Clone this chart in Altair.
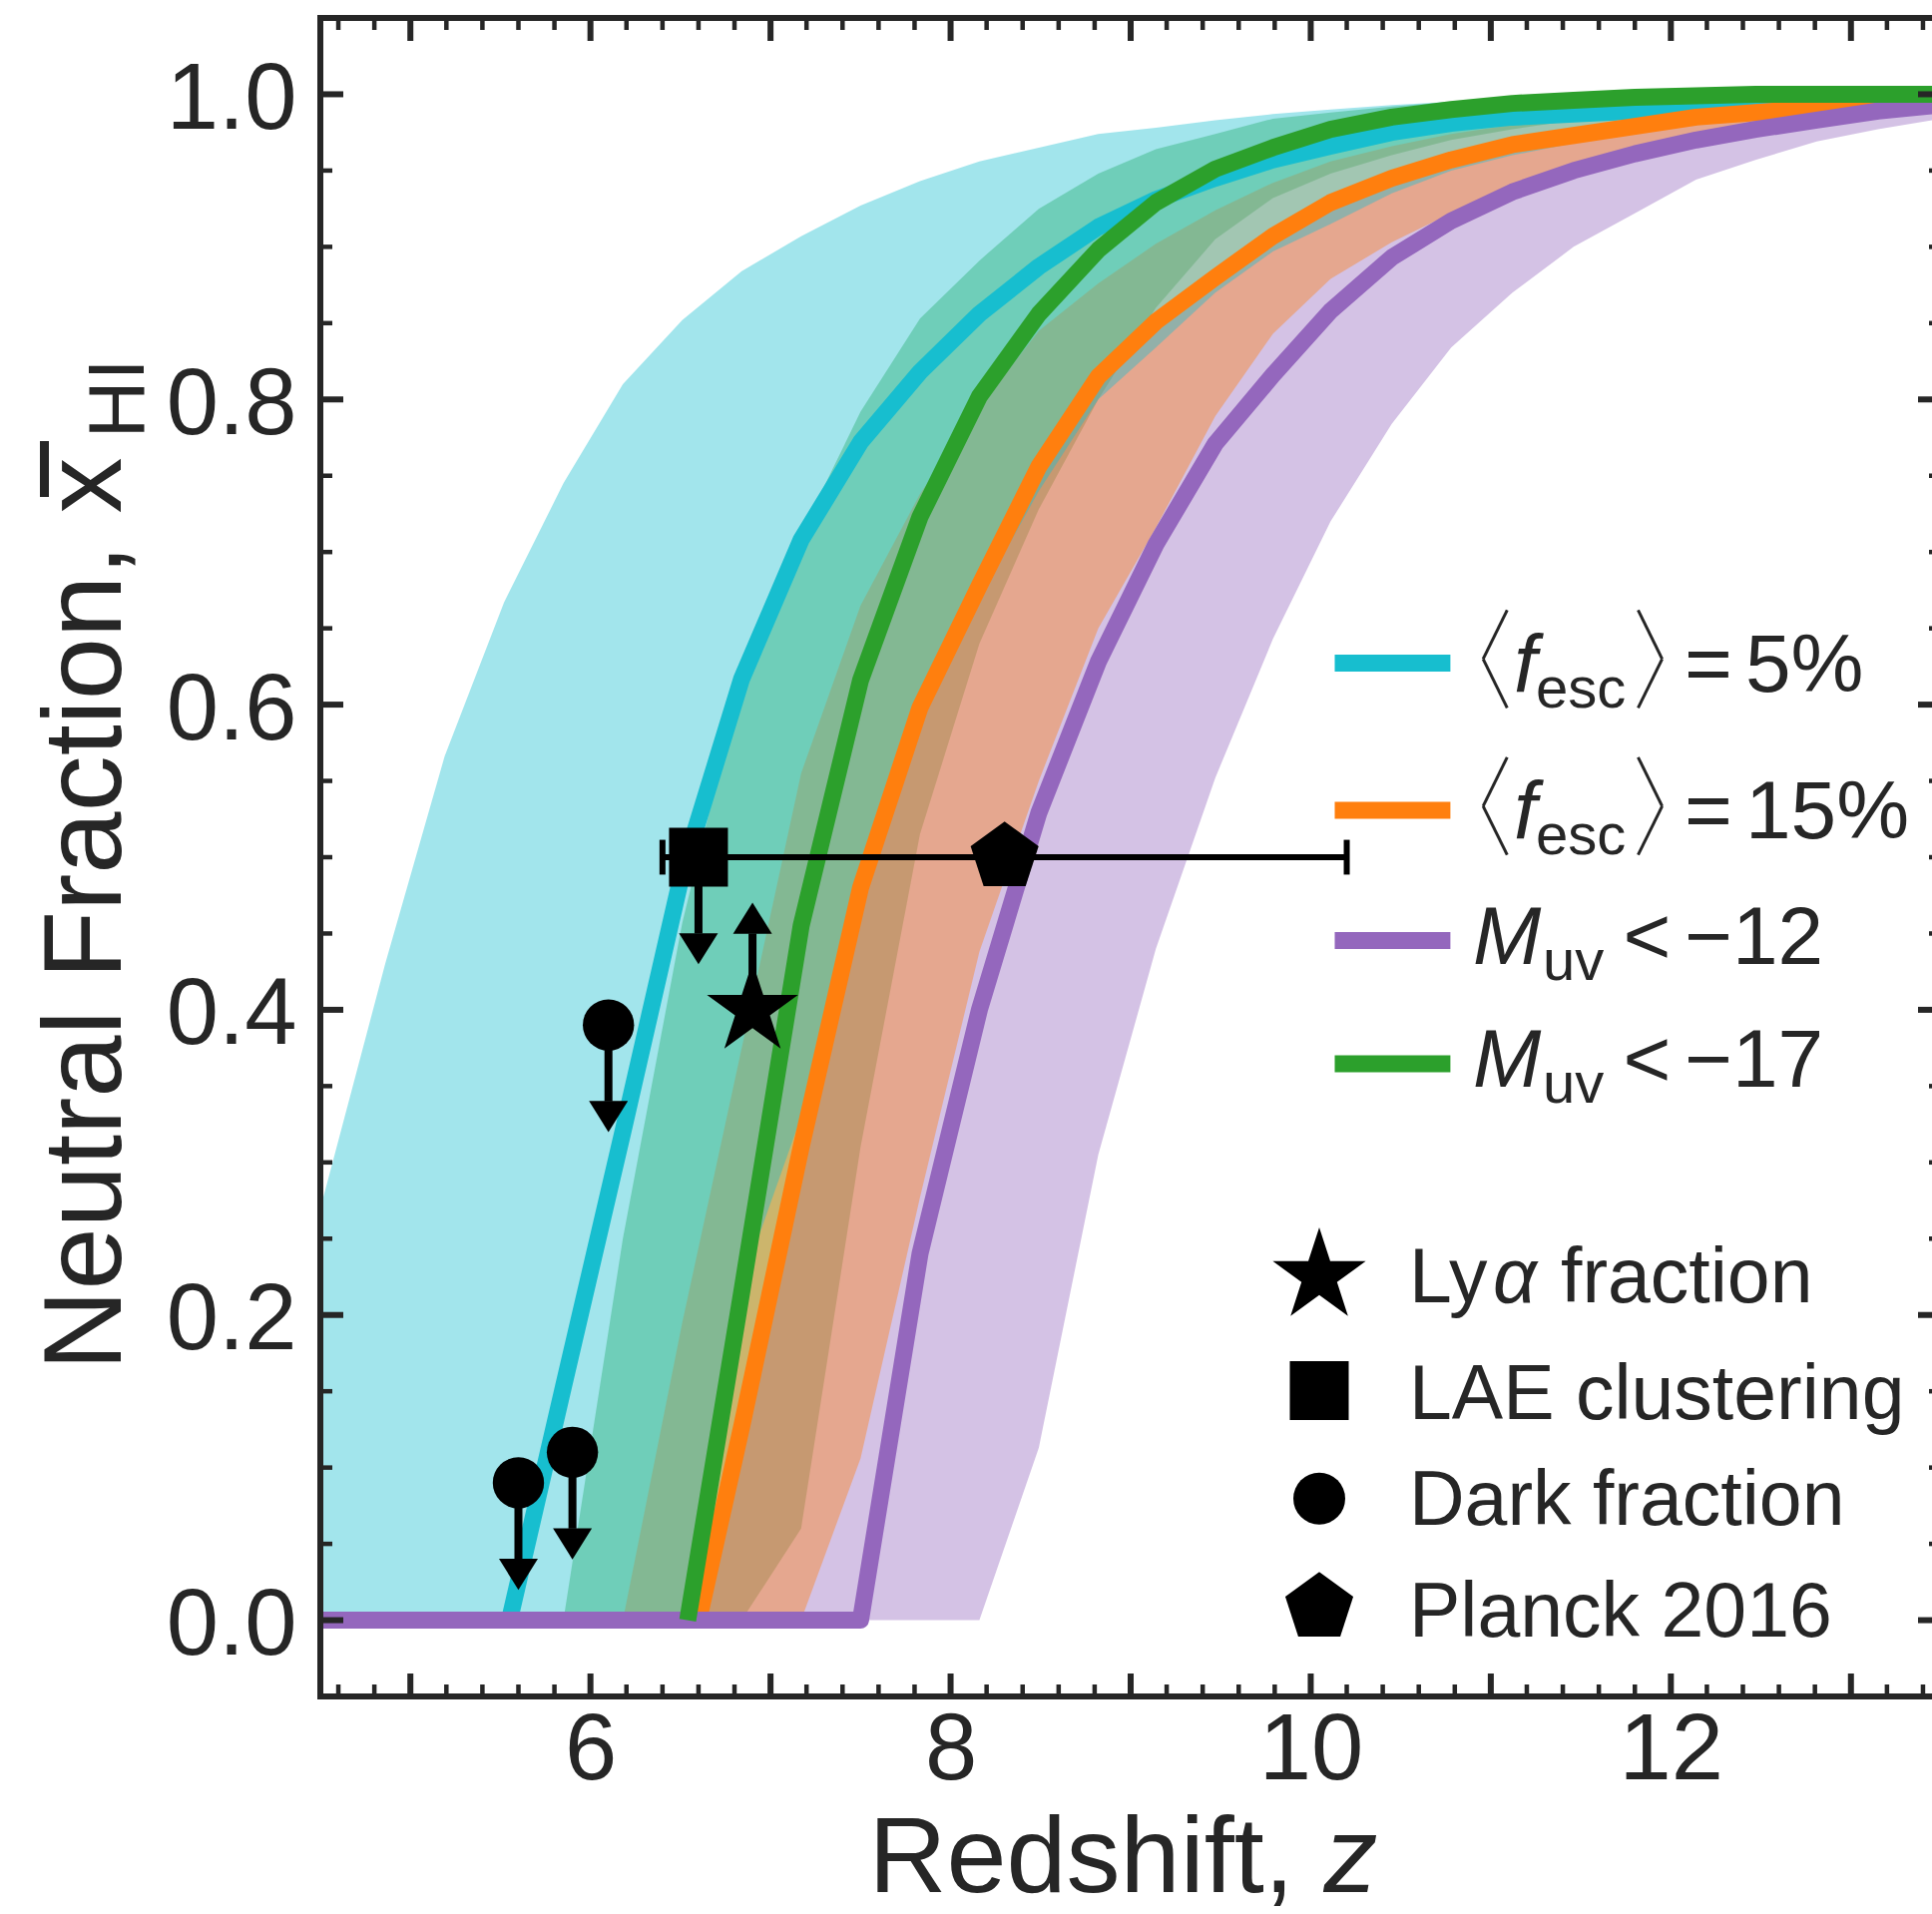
import altair as alt
import pandas as pd

FONT = "Liberation Sans"
INK = "#262626"
BLACK = "#000000"
C_CYAN = "#17becf"
C_ORANGE = "#ff7f0e"
C_PURPLE = "#9467bd"
C_GREEN = "#2ca02c"

# ------------------------------------------------------------------ data
# redshift grid of the model ranges
Z_GRID = [4.20, 4.53, 4.86, 5.19, 5.52, 5.85, 6.18, 6.51, 6.84, 7.17,
          7.50, 7.83, 8.16, 8.49, 8.82, 9.14, 9.47, 9.79, 10.11, 10.45,
          10.78, 11.12, 11.46, 11.80, 12.14, 12.47, 12.81, 13.15, 13.50]

CYAN_LO = [0.0, 0.0, 0.0, 0.0, 0.0, 0.0, 0.0, 0.0, 0.22, 0.33,
           0.47, 0.59, 0.67, 0.74, 0.80, 0.834, 0.87, 0.897, 0.915, 0.935,
           0.95, 0.96, 0.968, 0.975, 0.98, 0.985, 0.988, 0.991, 0.994]
CYAN_HI = [0.14, 0.283, 0.43, 0.566, 0.667, 0.745, 0.81, 0.852, 0.884, 0.907,
           0.927, 0.943, 0.956, 0.965, 0.974, 0.978, 0.983, 0.987, 0.990, 0.993,
           0.995, 0.997, 0.998, 0.999, 0.999, 1.0, 1.0, 1.0, 1.0]
ORANGE_LO = [0.0, 0.0, 0.0, 0.0, 0.0, 0.0, 0.0, 0.0, 0.0, 0.0,
             0.106, 0.277, 0.438, 0.55, 0.65, 0.716, 0.789, 0.843, 0.879, 0.903,
             0.922, 0.94, 0.953, 0.965, 0.973, 0.981, 0.986, 0.99, 0.994]
ORANGE_HI = [0.0, 0.0, 0.0, 0.0, 0.0, 0.0, 0.0, 0.195, 0.375, 0.555,
             0.665, 0.738, 0.795, 0.845, 0.876, 0.902, 0.924, 0.942, 0.956, 0.966,
             0.974, 0.98, 0.985, 0.989, 0.992, 0.994, 0.996, 0.997, 0.998]
PURPLE_LO = [0.0, 0.0, 0.0, 0.0, 0.0, 0.0, 0.0, 0.0, 0.0, 0.0,
             0.0, 0.0, 0.0, 0.113, 0.305, 0.44, 0.552, 0.643, 0.72, 0.784,
             0.834, 0.87, 0.9, 0.922, 0.944, 0.957, 0.969, 0.977, 0.984]
PURPLE_HI = [0.0, 0.0, 0.0, 0.0, 0.0, 0.0, 0.0, 0.0, 0.12, 0.32,
             0.475, 0.595, 0.675, 0.755, 0.812, 0.848, 0.877, 0.904, 0.926, 0.942,
             0.955, 0.964, 0.972, 0.978, 0.983, 0.987, 0.99, 0.993, 0.995]
GREEN_LO = [0.0, 0.0, 0.0, 0.0, 0.0, 0.0, 0.0, 0.0, 0.0, 0.06,
            0.31, 0.515, 0.64, 0.728, 0.80, 0.86, 0.905, 0.932, 0.948, 0.96,
            0.97, 0.977, 0.983, 0.987, 0.99, 0.993, 0.995, 0.997, 0.998]
GREEN_HI = [0.0, 0.0, 0.0, 0.0, 0.0, 0.0, 0.25, 0.457, 0.617, 0.712,
            0.792, 0.853, 0.891, 0.925, 0.948, 0.964, 0.974, 0.984, 0.988, 0.992,
            0.995, 0.997, 0.998, 0.999, 0.999, 1.0, 1.0, 1.0, 1.0]

# median histories
CYAN_Z = [5.55, 5.85, 6.18, 6.51, 6.84, 7.17, 7.50, 7.83, 8.16, 8.49, 8.82, 9.14, 9.47,
          9.79, 10.11, 10.45, 10.78, 11.12, 11.46, 11.80, 12.14, 12.47, 12.81, 13.15, 13.50]
CYAN_X = [0.0, 0.153, 0.32, 0.49, 0.617, 0.708, 0.772, 0.818, 0.856, 0.887, 0.913, 0.931, 0.945,
          0.957, 0.966, 0.975, 0.981, 0.985, 0.987, 0.989, 0.991, 0.992, 0.993, 0.994, 0.995]
ORANGE_Z = [6.60, 6.84, 7.17, 7.50, 7.83, 8.16, 8.49, 8.82, 9.14, 9.47, 9.79,
            10.11, 10.45, 10.78, 11.12, 11.46, 11.80, 12.14, 12.47, 12.81, 13.15, 13.50]
ORANGE_X = [0.0, 0.127, 0.31, 0.48, 0.598, 0.678, 0.756, 0.815, 0.851, 0.88, 0.907,
            0.929, 0.945, 0.957, 0.967, 0.973, 0.979, 0.985, 0.988, 0.991, 0.994, 0.996]
GREEN_Z = [6.54, 6.84, 7.17, 7.50, 7.83, 8.16, 8.49, 8.82, 9.14, 9.47, 9.79,
           10.11, 10.45, 10.78, 11.12, 11.46, 11.80, 12.14, 12.47, 12.81, 13.15, 13.50]
GREEN_X = [0.0, 0.215, 0.455, 0.616, 0.723, 0.802, 0.856, 0.898, 0.929, 0.951, 0.965,
           0.977, 0.985, 0.99, 0.994, 0.996, 0.998, 0.999, 1.0, 1.0, 1.0, 1.0]
PURPLE_Z = [4.40, 7.50, 7.83, 8.16, 8.49, 8.82, 9.14, 9.47, 9.79, 10.11,
            10.45, 10.78, 11.12, 11.46, 11.80, 12.14, 12.47, 12.81, 13.15, 13.50]
PURPLE_X = [0.0, 0.0, 0.24, 0.40, 0.529, 0.628, 0.705, 0.771, 0.816, 0.858,
            0.893, 0.917, 0.936, 0.95, 0.961, 0.97, 0.977, 0.983, 0.989, 0.993]

# observational constraints
LYA_Z, LYA_X = [6.9], [0.40]                      # lower limit
LAE_Z, LAE_X = [6.6], [0.50]                      # upper limit
DARK_Z, DARK_X = [5.6, 5.9, 6.1], [0.09, 0.11, 0.39]  # upper limits
PLANCK_Z, PLANCK_X, PLANCK_ERR = [8.3], [0.50], [1.9]

# legend / tick text
LINE_LEGEND_VALUE = ["5%", "15%", "\u221212", "\u221217"]
LINE_LEGEND_KIND = ["fesc", "fesc", "muv", "muv"]
LINE_LEGEND_COLOR = [C_CYAN, C_ORANGE, C_PURPLE, C_GREEN]
POINT_LEGEND = ["Ly\u03b1 fraction", "LAE clustering", "Dark fraction", "Planck 2016"]
X_LABELS = [6, 8, 10, 12]
Y_LABELS = [0.0, 0.2, 0.4, 0.6, 0.8, 1.0]
X_MAJOR = [5, 6, 7, 8, 9, 10, 11, 12, 13]
X_MINOR = [round(4.6 + 0.2 * i, 1) for i in range(45) if abs(round(4.6 + 0.2 * i, 1) % 1) > 1e-6]
Y_MAJOR = [0.0, 0.2, 0.4, 0.6, 0.8, 1.0]
Y_MINOR = [round(0.05 * i, 2) for i in range(1, 20) if i % 4 != 0]

# ------------------------------------------------------------------ layout
W, H = 1615, 1682
PAD = {"left": 321, "top": 18, "right": 0, "bottom": 218}
FRAME_W = 1624                     # right spine sits just outside the window
X_MIN, X_FRAME = 4.5, 13.5
X_MAX = X_MIN + (X_FRAME - X_MIN) * W / FRAME_W

xs = alt.Scale(domain=[X_MIN, X_MAX], nice=False, zero=False)
ys = alt.Scale(domain=[-0.05, 1.05], nice=False, zero=False)
XAX = alt.Axis(values=X_LABELS, title=None, domain=False, ticks=False, tickSize=0, grid=False,
               labelFont=FONT, labelFontSize=94, labelColor=INK, labelPadding=8,
               labelFlush=False, labelOverlap=False)
YAX = alt.Axis(values=Y_LABELS, format=".1f", title=None, domain=False, ticks=False, tickSize=0,
               grid=False, labelFont=FONT, labelFontSize=94, labelColor=INK, labelPadding=24,
               labelBaseline="alphabetic", labelOffset=34, labelFlush=False, labelOverlap=False)


def X(f):
    return alt.X(f"{f}:Q", scale=xs, axis=XAX)


def Y(f):
    return alt.Y(f"{f}:Q", scale=ys, axis=YAX)


def band(lo, hi, color):
    df = pd.DataFrame({"z": Z_GRID, "lo": lo, "hi": hi})
    return alt.Chart(df).mark_area(color=color, opacity=0.4, clip=True).encode(
        x=X("z"), y=Y("lo"), y2="hi:Q")


def curve(zs, xv, color):
    df = pd.DataFrame({"z": zs, "xhi": xv})
    return alt.Chart(df).mark_line(color=color, strokeWidth=17, strokeJoin="round",
                                   clip=True).encode(x=X("z"), y=Y("xhi"))


STAR = ("M0,-1L0.2245,-0.309L0.9511,-0.309L0.3633,0.118L0.5878,0.809L0,0.382"
        "L-0.5878,0.809L-0.3633,0.118L-0.9511,-0.309L-0.2245,-0.309Z")
PENTA = "M0,-1L0.9511,-0.309L0.5878,0.809L-0.5878,0.809L-0.9511,-0.309Z"
TRI_DOWN = "M-1,-0.8L1,-0.8L0,0.8Z"
TRI_UP = "M-1,0.8L1,0.8L0,-0.8Z"


def points(zs, xv, shape, size):
    df = pd.DataFrame({"z": zs, "xhi": xv})
    return alt.Chart(df).mark_point(shape=shape, size=size, filled=True, color=BLACK,
                                    opacity=1, strokeWidth=0).encode(x=X("z"), y=Y("xhi"))


SHAFT, HEAD = 0.05, 0.0600


def arrows(zs, xv, direction):
    sgn = 1 if direction == "up" else -1
    df = pd.DataFrame({"z": zs, "y0": xv})
    df["yb"] = df["y0"] + sgn * SHAFT
    df["yh"] = df["y0"] + sgn * HEAD
    shaft = alt.Chart(df).mark_rule(color=BLACK, strokeWidth=8).encode(
        x=X("z"), y=Y("y0"), y2="yb:Q")
    head = alt.Chart(df).mark_point(shape=TRI_UP if sgn > 0 else TRI_DOWN, size=1521,
                                    filled=True, color=BLACK, opacity=1,
                                    strokeWidth=0).encode(x=X("z"), y=Y("yh"))
    return [shaft, head]


def text_layer(rows, italic=False):
    df = pd.DataFrame(rows, columns=["t", "px", "py", "fs", "ang"])
    return alt.Chart(df).mark_text(align="left", baseline="alphabetic", font=FONT, color=INK,
                                   fontStyle="italic" if italic else "normal").encode(
        x=alt.X("px:Q", scale=None, axis=None), y=alt.Y("py:Q", scale=None, axis=None),
        text="t:N", size=alt.Size("fs:Q", scale=None, legend=None),
        angle=alt.Angle("ang:Q", scale=None, legend=None))


def seg_layer(rows):
    df = pd.DataFrame(rows, columns=["x1", "y1", "x2", "y2", "c", "w"])
    return alt.Chart(df).mark_rule(strokeCap="butt").encode(
        x=alt.X("x1:Q", scale=None, axis=None), x2="x2:Q",
        y=alt.Y("y1:Q", scale=None, axis=None), y2="y2:Q",
        color=alt.Color("c:N", scale=None, legend=None),
        strokeWidth=alt.StrokeWidth("w:Q", scale=None, legend=None))


def px_point(px, py, shape, size):
    df = pd.DataFrame({"px": [px], "py": [py]})
    return alt.Chart(df).mark_point(shape=shape, size=size, filled=True, color=BLACK,
                                    opacity=1, strokeWidth=0).encode(
        x=alt.X("px:Q", scale=None, axis=None), y=alt.Y("py:Q", scale=None, axis=None))


layers = []
# model ranges
layers += [band(GREEN_LO, GREEN_HI, C_GREEN), band(PURPLE_LO, PURPLE_HI, C_PURPLE),
           band(ORANGE_LO, ORANGE_HI, C_ORANGE), band(CYAN_LO, CYAN_HI, C_CYAN)]
# medians
layers += [curve(CYAN_Z, CYAN_X, C_CYAN), curve(ORANGE_Z, ORANGE_X, C_ORANGE),
           curve(PURPLE_Z, PURPLE_X, C_PURPLE), curve(GREEN_Z, GREEN_X, C_GREEN)]

# Planck error bar
pl = pd.DataFrame({"z": PLANCK_Z, "xhi": PLANCK_X, "err": PLANCK_ERR})
pl["zlo"] = pl["z"] - pl["err"]
pl["zhi"] = pl["z"] + pl["err"]
CAP = 0.0114
caps = pd.DataFrame({"zc": list(pl["zlo"]) + list(pl["zhi"]),
                     "xhi": list(pl["xhi"]) * 2})
caps["ylo"] = caps["xhi"] - CAP
caps["yhi"] = caps["xhi"] + CAP
layers.append(alt.Chart(pl).mark_rule(color=BLACK, strokeWidth=6).encode(
    x=X("zlo"), x2="zhi:Q", y=Y("xhi")))
layers.append(alt.Chart(caps).mark_rule(color=BLACK, strokeWidth=6).encode(
    x=X("zc"), y=Y("ylo"), y2="yhi:Q"))

# limits
layers += arrows(DARK_Z, DARK_X, "down")
layers += arrows(LAE_Z, LAE_X, "down")
layers += arrows(LYA_Z, LYA_X, "up")
layers.append(points(DARK_Z, DARK_X, "circle", 2642))
layers.append(points(LAE_Z, LAE_X, "square", 3481))
layers.append(points(LYA_Z, LYA_X, STAR, 9216))
layers.append(points(PLANCK_Z, PLANCK_X, PENTA, 5126))

# ---------------- legends (pixel layout inside the plot)
LINE_ROW_Y = [646.6, 794.0, 924.5, 1048.0]
segs, reg, ital = [], [], []
for i, (val, kind, col) in enumerate(zip(LINE_LEGEND_VALUE, LINE_LEGEND_KIND, LINE_LEGEND_COLOR)):
    y = LINE_ROW_Y[i]
    segs.append((1016.5, y, 1132.4, y, col, 17))
    if kind == "fesc":
        segs += [(1189.3, y - 53.2, 1165.2, y - 4.2, INK, 3),
                 (1165.2, y - 4.2, 1189.3, y + 44.7, INK, 3),
                 (1320.5, y - 53.2, 1344.6, y - 4.2, INK, 3),
                 (1344.6, y - 4.2, 1320.5, y + 44.7, INK, 3)]
        ital.append(("f", 1196, y + 28, 82, 0))
        reg += [("esc", 1218, y + 44, 58, 0), ("=", 1367, y + 28, 82, 0),
                (val, 1428, y + 28, 82, 0)]
    else:
        ital.append(("M", 1155, y + 23.2, 82, 0))
        reg += [("uv", 1225, y + 39.3, 58, 0), ("<", 1305.6, y + 23.2, 82, 0),
                (val, 1367, y + 23.2, 82, 0)]

MK_Y = [1261, 1375.5, 1483.7, 1593]
TX_Y = [1287, 1403.7, 1510, 1622]
for i, lab in enumerate(POINT_LEGEND):
    if "\u03b1" in lab:
        head, tail = lab.split("\u03b1")
        reg += [(head, 1091, TX_Y[i], 77, 0), (tail.strip(), 1243, TX_Y[i], 77, 0)]
        ital.append(("\u03b1", 1175, TX_Y[i], 77, 0))
    else:
        reg.append((lab, 1091, TX_Y[i], 77, 0))

# axis titles
reg += [("Neutral Fraction, x", -200.5, 1355.5, 112, 270),
        ("HI", -177, 421.3, 80, 270),
        ("Redshift,", 549.5, 1877.5, 108, 0)]
ital.append(("z", 1005.5, 1877.5, 108, 0))
segs.append((-276.5, 424, -276.5, 480, INK, 9))   # bar over x

layers.append(seg_layer(segs))
layers.append(text_layer(reg))
layers.append(text_layer(ital, italic=True))
layers += [px_point(1001, MK_Y[0], STAR, 9604), px_point(1001, MK_Y[1], "square", 3481),
           px_point(1001, MK_Y[2], "circle", 2700), px_point(1001, MK_Y[3], PENTA, 5126)]

# ---------------- ticks (inward) and frame
def xticks(vals, length, width):
    df = pd.DataFrame({"v": vals})
    b = alt.Chart(df).mark_rule(color=INK, strokeWidth=width).encode(
        x=X("v"), y=alt.value(H), y2=alt.value(H - length))
    t = alt.Chart(df).mark_rule(color=INK, strokeWidth=width).encode(
        x=X("v"), y=alt.value(0), y2=alt.value(length))
    return [b, t]


def yticks(vals, length, width):
    df = pd.DataFrame({"v": vals})
    l = alt.Chart(df).mark_rule(color=INK, strokeWidth=width).encode(
        y=Y("v"), x=alt.value(0), x2=alt.value(length))
    r = alt.Chart(df).mark_rule(color=INK, strokeWidth=width).encode(
        y=Y("v"), x=alt.value(FRAME_W), x2=alt.value(FRAME_W - length))
    return [l, r]


layers += xticks(X_MAJOR, 23, 6) + xticks(X_MINOR, 12, 4.5)
layers += yticks(Y_MAJOR, 23, 6) + yticks(Y_MINOR, 12, 4.5)
layers.append(seg_layer([(0, -3, 0, H + 3, INK, 6),
                         (-3, 0, W + 5, 0, INK, 6),
                         (-3, H, W + 5, H, INK, 6)]))

chart = alt.layer(*layers).properties(
    width=W, height=H, padding=PAD,
    autosize=alt.AutoSizeParams(type="none"), background="white"
).configure_view(strokeWidth=0)

chart.save("out.html", embed_options={"renderer": "svg", "actions": False})
